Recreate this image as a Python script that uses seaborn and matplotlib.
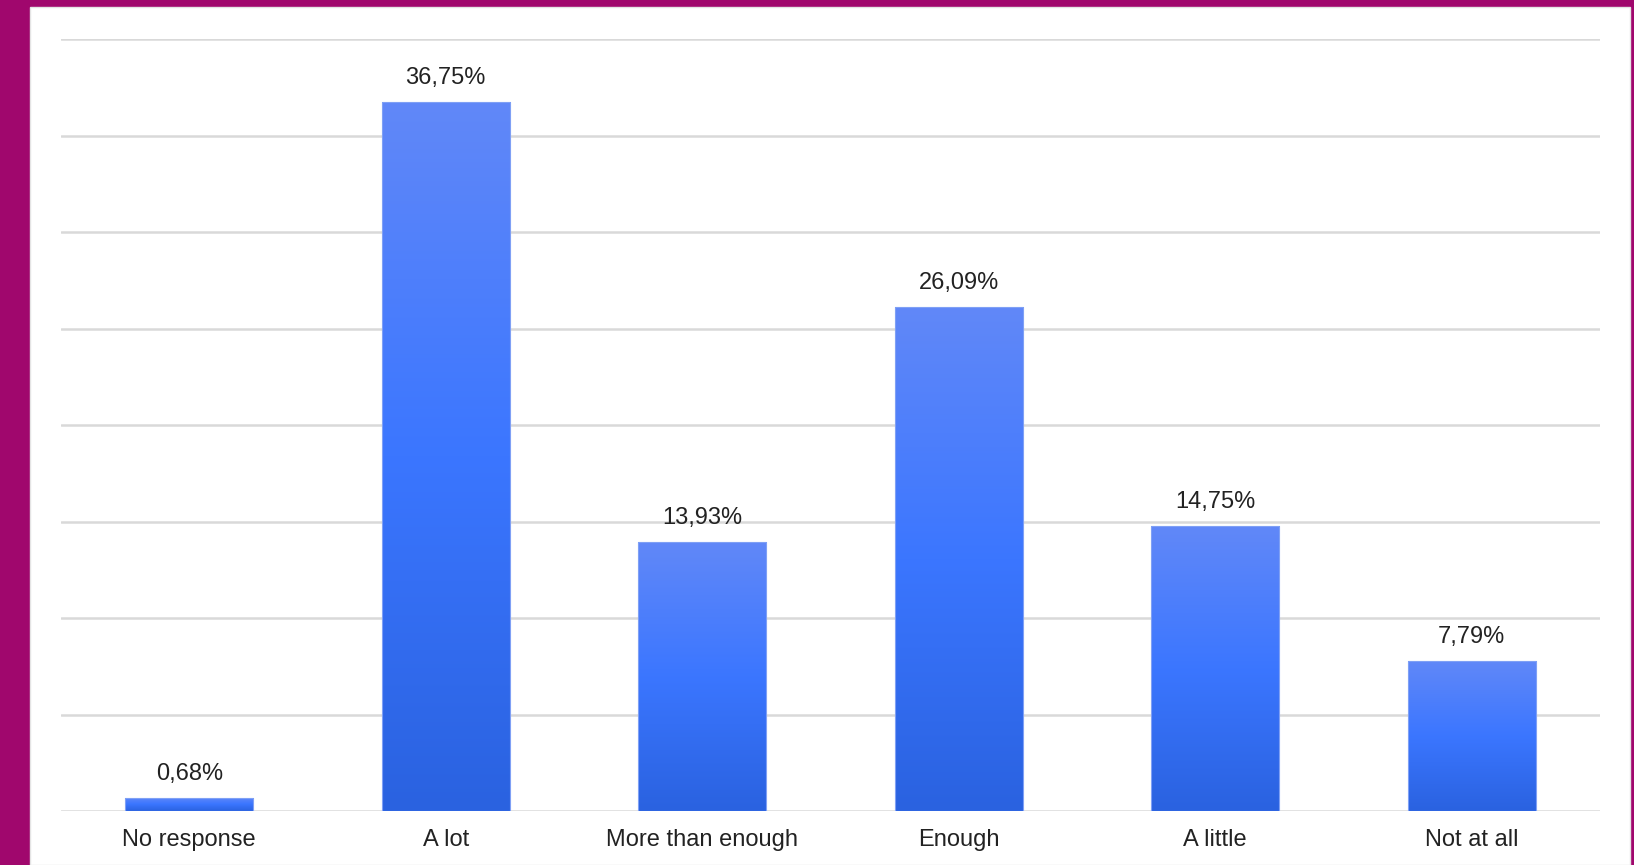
import numpy as np
import pandas as pd
import seaborn as sns
from matplotlib import pyplot as plt
from matplotlib.patches import Rectangle

categories = ['No response', 'A lot', 'More than enough', 'Enough', 'A little', 'Not at all']
values = [0.68, 36.75, 13.93, 26.09, 14.75, 7.79]
labels = ['0,68%', '36,75%', '13,93%', '26,09%', '14,75%', '7,79%']

BORDER = '#a0076d'
TEXT = '#222222'
GRID = '#d9d9d9'

sns.set_style('white')
plt.rcParams['font.family'] = ['Liberation Sans', 'DejaVu Sans']

fig = plt.figure(figsize=(16.34, 8.65), dpi=100, facecolor=BORDER)
# white card inside the magenta frame
fig.patches.append(Rectangle((30 / 1634, 0), (1630 - 30) / 1634, 1 - 7 / 865,
                             transform=fig.transFigure, facecolor='white',
                             edgecolor='#e4e4e4', linewidth=1, zorder=-10))
ax = fig.add_axes([61 / 1634, 1 - 811 / 865, (1600 - 61) / 1634, (811 - 39) / 865])
ax.set_facecolor('none')

df = pd.DataFrame({'cat': categories, 'val': values})
sns.barplot(data=df, x='cat', y='val', color='#3d78ff', width=0.5, ax=ax, zorder=2)

ax.set_yticks(np.arange(0, 41, 5))
ax.yaxis.grid(True, color=GRID, linewidth=1.8, zorder=0)
ax.set_axisbelow(True)
ax.tick_params(axis='y', left=False, labelleft=False)
ax.tick_params(axis='x', bottom=False, labelsize=17, labelcolor=TEXT, pad=9.5)
for s in ax.spines.values():
    s.set_visible(False)
ax.set_xlabel('')
ax.set_ylabel('')

# vertical gradient in each bar: light top -> bright middle -> darker bottom
grad_cmap = sns.blend_palette(['#2a62e0', '#3b76ff', '#6188f8'], as_cmap=True)
grad = np.linspace(0, 1, 256).reshape(-1, 1)
for p in ax.patches:
    x0, y0 = p.get_x(), p.get_y()
    w, h = p.get_width(), p.get_height()
    p.set_facecolor('none')
    p.set_edgecolor('#7fa0f5')
    p.set_linewidth(0.8)
    im = ax.imshow(grad, cmap=grad_cmap, origin='lower', aspect='auto',
                   extent=(x0, x0 + w, y0, y0 + h), zorder=1.5)
    im.set_clip_path(p)

ax.set_xlim(-0.5, 5.5)
ax.set_ylim(0, 40)

for i, (v, lab) in enumerate(zip(values, labels)):
    ax.annotate(lab, (i, v), xytext=(0, 13), textcoords='offset points',
                ha='center', va='baseline', fontsize=17, color=TEXT)

fig.savefig('out.png', dpi=100, facecolor=BORDER)
